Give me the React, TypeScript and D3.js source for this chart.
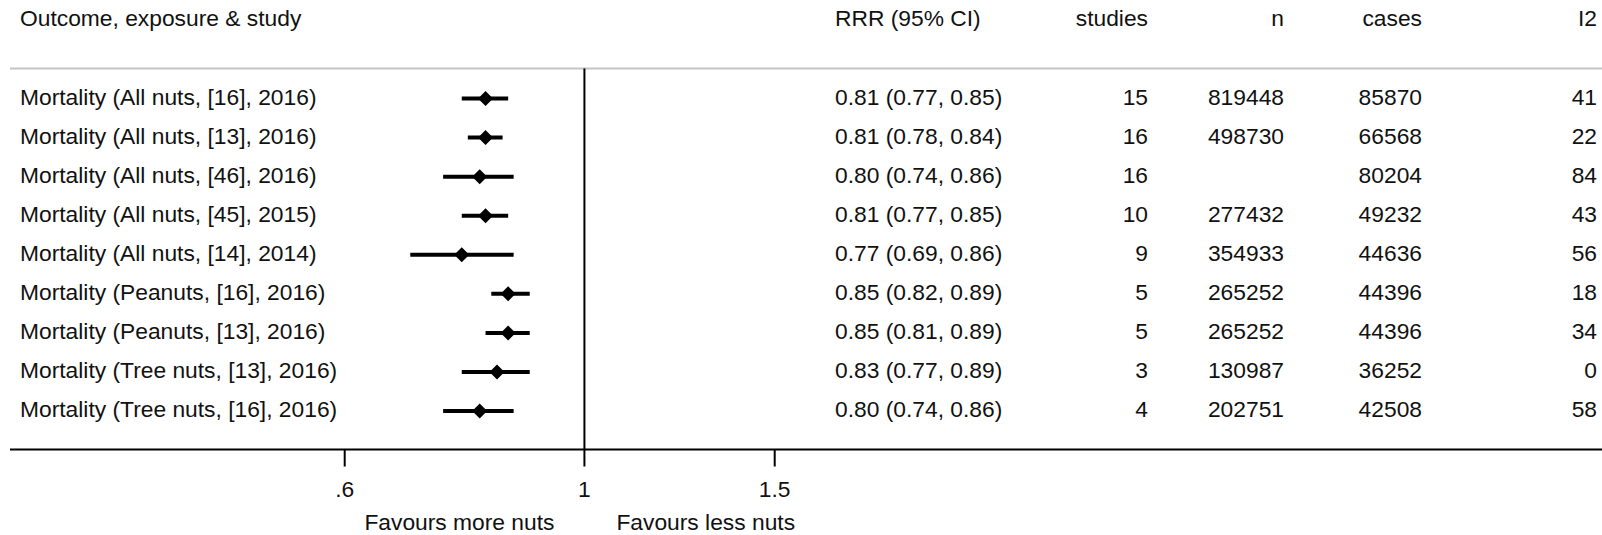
import React from "react";
import * as d3 from "d3";

// Forest plot: nut consumption and all-cause mortality
const labels = [
  "Mortality (All nuts, [16], 2016)",
  "Mortality (All nuts, [13], 2016)",
  "Mortality (All nuts, [46], 2016)",
  "Mortality (All nuts, [45], 2015)",
  "Mortality (All nuts, [14], 2014)",
  "Mortality (Peanuts, [16], 2016)",
  "Mortality (Peanuts, [13], 2016)",
  "Mortality (Tree nuts, [13], 2016)",
  "Mortality (Tree nuts, [16], 2016)",
];
const rrr = [0.81, 0.81, 0.8, 0.81, 0.77, 0.85, 0.85, 0.83, 0.8];
const lower = [0.77, 0.78, 0.74, 0.77, 0.69, 0.82, 0.81, 0.77, 0.74];
const upper = [0.85, 0.84, 0.86, 0.85, 0.86, 0.89, 0.89, 0.89, 0.86];
const studies = ["15", "16", "16", "10", "9", "5", "5", "3", "4"];
const nTotal = ["819448", "498730", "", "277432", "354933", "265252", "265252", "130987", "202751"];
const cases = ["85870", "66568", "80204", "49232", "44636", "44396", "44396", "36252", "42508"];
const i2 = ["41", "22", "84", "43", "56", "18", "34", "0", "58"];
const tickValues = [0.6, 1, 1.5];
const tickLabels = [".6", "1", "1.5"];

const W = 1602;
const H = 535;
const FONT = "'Liberation Sans', Arial, sans-serif";

export default function App() {
  const x = d3.scaleLog().domain([0.6, 1.5]).range([344.7, 774.7]);
  const y = d3
    .scaleLinear()
    .domain([0, labels.length - 1])
    .range([98.5, 411]);
  const fmt = d3.format(".2f");
  const axisY = 449.5;
  const topY = 68.5;
  const fs = 22.8;
  const d = 7.5;

  return (
    <svg
      width={W}
      height={H}
      style={{ position: "absolute", left: 0, top: 0, background: "#fff" }}
      fontFamily={FONT}
      fontSize={fs}
    >
      <rect width={W} height={H} fill="#fff" />
      {/* header */}
      <g fill="#111" dominantBaseline="middle">
        <text x={20} y={20}>Outcome, exposure &amp; study</text>
        <text x={835} y={20}>RRR (95% CI)</text>
        <text x={1148} y={20} textAnchor="end">studies</text>
        <text x={1284} y={20} textAnchor="end">n</text>
        <text x={1422} y={20} textAnchor="end">cases</text>
        <text x={1597} y={20} textAnchor="end">I2</text>
      </g>
      <line x1={10} x2={W} y1={topY} y2={topY} stroke="#c4c4c4" strokeWidth={2} />

      {/* null line */}
      <line x1={x(1)} x2={x(1)} y1={topY} y2={axisY} stroke="#000" strokeWidth={2} />

      {/* rows */}
      {labels.map((lab, i) => {
        const cy = y(i);
        return (
          <g key={lab + i}>
            <text x={20} y={cy} dominantBaseline="middle" fill="#111">{lab}</text>
            <line x1={x(lower[i])} x2={x(upper[i])} y1={cy} y2={cy} stroke="#000" strokeWidth={4} />
            <path
              d={`M${x(rrr[i])},${cy - d}L${x(rrr[i]) + d},${cy}L${x(rrr[i])},${cy + d}L${x(rrr[i]) - d},${cy}Z`}
              fill="#000"
            />
            <text x={835} y={cy} dominantBaseline="middle" fill="#111">
              {`${fmt(rrr[i])} (${fmt(lower[i])}, ${fmt(upper[i])})`}
            </text>
            <text x={1148} y={cy} dominantBaseline="middle" textAnchor="end" fill="#111">{studies[i]}</text>
            <text x={1284} y={cy} dominantBaseline="middle" textAnchor="end" fill="#111">{nTotal[i]}</text>
            <text x={1422} y={cy} dominantBaseline="middle" textAnchor="end" fill="#111">{cases[i]}</text>
            <text x={1597} y={cy} dominantBaseline="middle" textAnchor="end" fill="#111">{i2[i]}</text>
          </g>
        );
      })}

      {/* x axis */}
      <line x1={10} x2={W} y1={axisY} y2={axisY} stroke="#000" strokeWidth={2} />
      {tickValues.map((t, i) => (
        <g key={t}>
          <line x1={x(t)} x2={x(t)} y1={axisY} y2={axisY + 17} stroke="#000" strokeWidth={2} />
          <text x={x(t)} y={491} textAnchor="middle" dominantBaseline="middle" fill="#111">
            {tickLabels[i]}
          </text>
        </g>
      ))}
      <text x={x(1) - 30} y={524} textAnchor="end" dominantBaseline="middle" fill="#111">Favours more nuts</text>
      <text x={x(1) + 32} y={524} textAnchor="start" dominantBaseline="middle" fill="#111">Favours less nuts</text>
    </svg>
  );
}
